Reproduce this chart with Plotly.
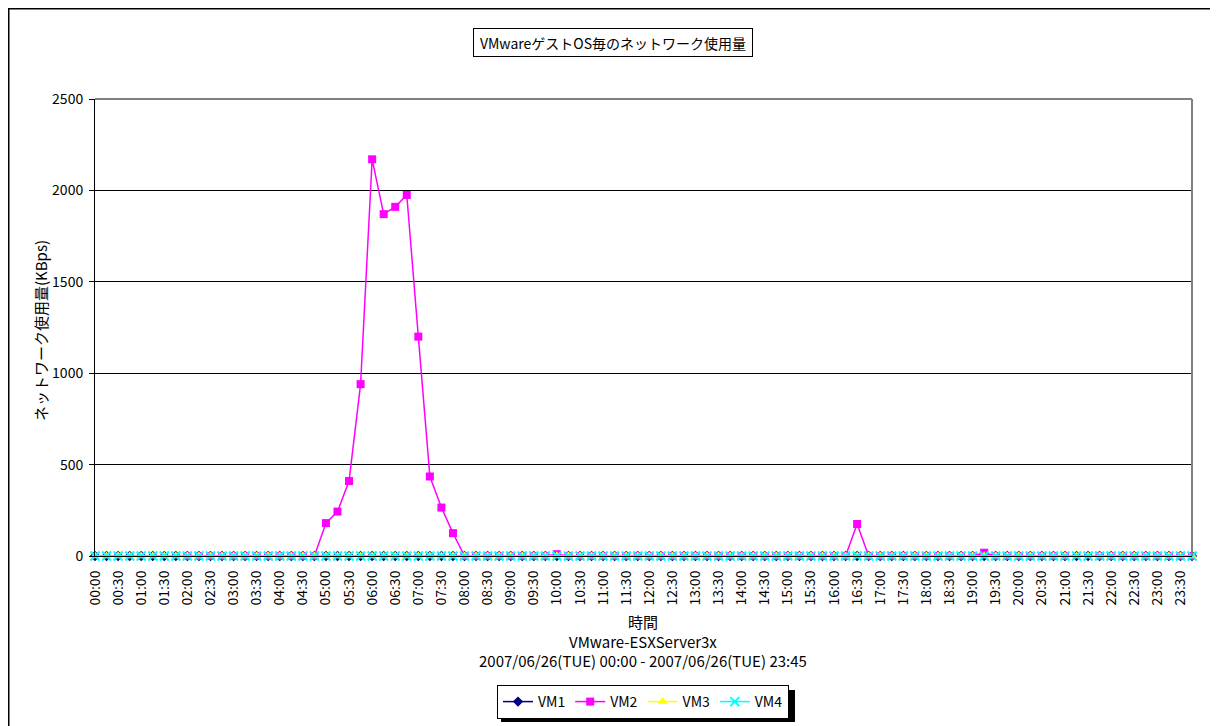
import plotly.graph_objects as go

# ---- data ----
times = [f"{h:02d}:{m:02d}" for h in range(24) for m in (0, 15, 30, 45)]
tick_labels = [t for t in times if t.endswith(":00") or t.endswith(":30")]

vm1 = [0] * 96
vm2 = ([None] * 8 + [0] * 12 +
       [180, 243, 410, 940, 2170, 1870, 1910, 1975, 1200, 435, 265, 125] +
       [0] * 8 + [10] + [0] * 25 + [175] + [0] * 10 + [18] + [0] * 7 +
       [None, None] + [0] * 9)
vm3 = [0] * 96
vm4 = [0] * 96

series_names = ["VM1", "VM2", "VM3", "VM4"]
x_title_lines = ["時間", "VMware-ESXServer3x", "2007/06/26(TUE) 00:00 - 2007/06/26(TUE) 23:45"]

# ---- layout geometry (page pixels; the page body has an 8px margin) ----
OFF = 8
W, H = 1218 - OFF, 726 - OFF
L, R, T, B = 95, 1192, 99, 556
pw, ph = R - L, B - T


def px(x):
    return (x - L) / pw


def py(y):
    return (B - y) / ph


FONT = "Noto Sans CJK JP"

fig = go.Figure()
fig.add_trace(go.Scatter(x=times, y=vm1, name=series_names[0], mode="lines+markers",
                         line=dict(color="#000080", width=1.5),
                         marker=dict(symbol="diamond", size=8, color="#000080"),
                         cliponaxis=False))
fig.add_trace(go.Scatter(x=times, y=vm2, name=series_names[1], mode="lines+markers",
                         line=dict(color="#FF00FF", width=1.5),
                         marker=dict(symbol="square", size=8, color="#FF00FF"),
                         cliponaxis=False, connectgaps=False))
fig.add_trace(go.Scatter(x=times, y=vm3, name=series_names[2], mode="lines+markers",
                         line=dict(color="#FFFF00", width=1.5),
                         marker=dict(symbol="triangle-up", size=9, color="#FFFF00"),
                         cliponaxis=False))
fig.add_trace(go.Scatter(x=times, y=vm4, name=series_names[3], mode="lines+markers",
                         line=dict(color="#00FFFF", width=1.5),
                         marker=dict(symbol="x-thin", size=9, color="#00FFFF",
                                     line=dict(color="#00FFFF", width=2)),
                         cliponaxis=False))

fig.update_layout(
    width=W, height=H,
    margin=dict(l=L - OFF, r=W - (R - OFF), t=T - OFF, b=H - (B - OFF), autoexpand=False),
    paper_bgcolor="white", plot_bgcolor="white",
    font=dict(family=FONT, size=14, color="black"),
    showlegend=True,
    legend=dict(orientation="h", xanchor="center", x=px(643), yanchor="top", y=py(685),
                bordercolor="black", borderwidth=1, bgcolor="white",
                font=dict(family=FONT, size=14), itemwidth=30,
                tracegroupgap=0),
    xaxis=dict(type="category", categoryorder="array", categoryarray=times,
               range=[0, 95], tickmode="array", tickvals=tick_labels, ticktext=tick_labels,
               tickangle=-90, tickfont=dict(size=14), showgrid=False, zeroline=False,
               showline=True, linecolor="black", linewidth=1, ticks="",
               ticklabelstandoff=8, automargin=False),
    yaxis=dict(range=[0, 2500], tickvals=[0, 500, 1000, 1500, 2000, 2500],
               showgrid=True, gridcolor="black", gridwidth=1, zeroline=False,
               showline=True, linecolor="black", linewidth=1,
               ticks="outside", ticklen=5, tickcolor="black", tickfont=dict(size=14),
               ticklabelstandoff=3, automargin=False),
    shapes=[
        # plot area top/right border (gray)
        dict(type="line", xref="paper", yref="paper", x0=0, x1=1, y0=1, y1=1,
             line=dict(color="#808080", width=2), layer="above"),
        dict(type="line", xref="paper", yref="paper", x0=1, x1=1, y0=0, y1=1,
             line=dict(color="#808080", width=2), layer="above"),
        # outer chart border (left and top)
        dict(type="line", xref="paper", yref="paper", x0=px(8), x1=px(8), y0=py(8), y1=py(740),
             line=dict(color="black", width=3)),
        dict(type="line", xref="paper", yref="paper", x0=px(8), x1=px(1240), y0=py(8), y1=py(8),
             line=dict(color="black", width=3)),
        # legend shadow
        dict(type="rect", xref="paper", yref="paper", x0=px(501), x1=px(795), y0=py(690), y1=py(722),
             fillcolor="black", line=dict(width=0)),
    ],
    annotations=[
        dict(text="VMwareゲストOS毎のネットワーク使用量", xref="paper", yref="paper",
             x=px(613), y=py(42.5), xanchor="center", yanchor="middle", showarrow=False,
             font=dict(size=14), bordercolor="black", borderwidth=1, bgcolor="white",
             width=276, height=25, borderpad=1),
        dict(text="ネットワーク使用量(KBps)", xref="paper", yref="paper",
             x=px(40), y=py(330), xanchor="center", yanchor="middle", showarrow=False,
             textangle=-90, font=dict(size=15)),
        dict(text="<br>".join(x_title_lines), xref="paper", yref="paper",
             x=px(643), y=py(640.5), xanchor="center", yanchor="middle", showarrow=False,
             align="center", font=dict(size=15)),
    ],
)

fig.write_html("out.html")
